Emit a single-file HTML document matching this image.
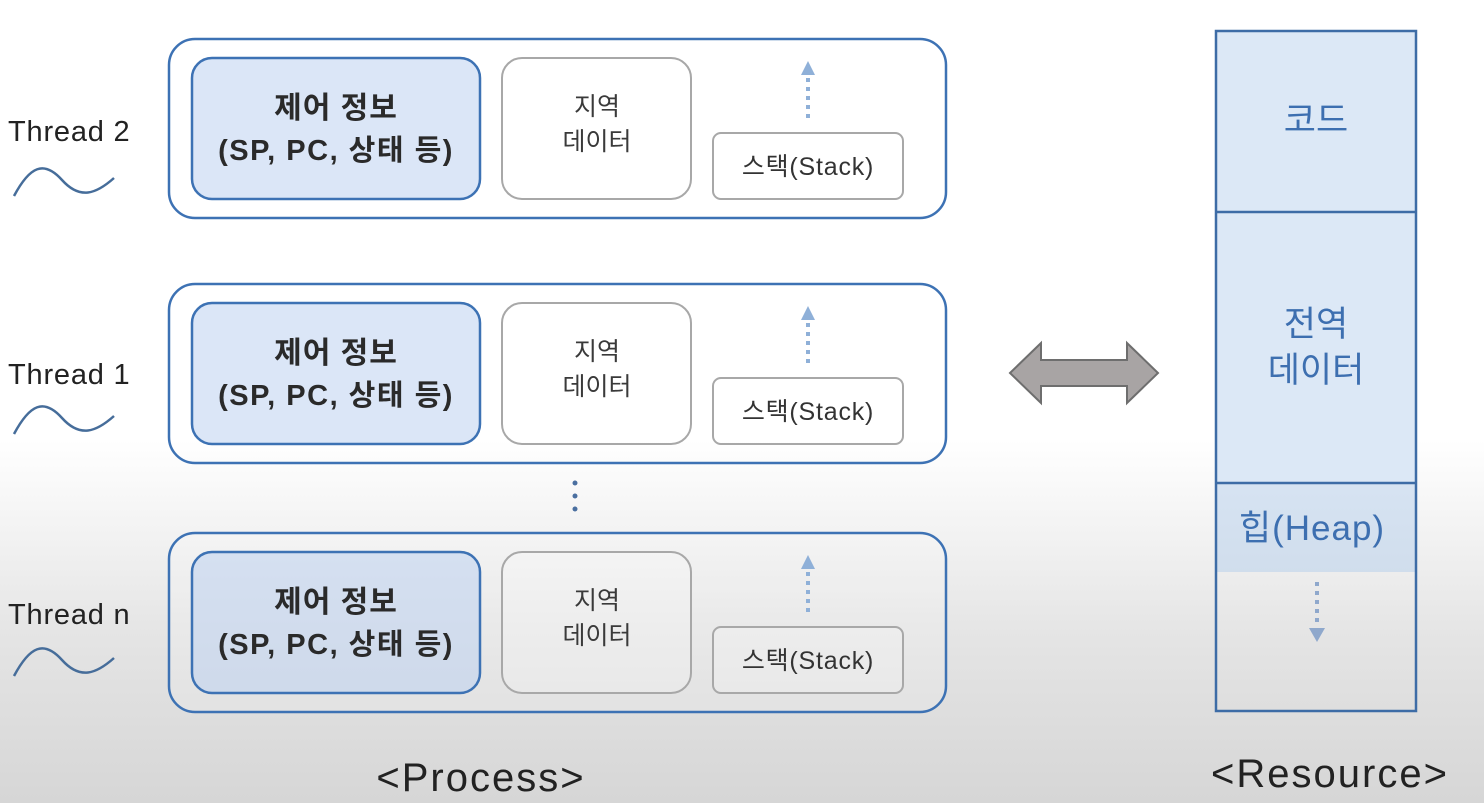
<!DOCTYPE html>
<html><head><meta charset="utf-8"><style>
html,body{margin:0;padding:0;}
body{width:1484px;height:803px;overflow:hidden;background:linear-gradient(to bottom,#ffffff 0px,#ffffff 440px,#e4e4e4 640px,#d6d6d6 803px);}
svg{display:block;}
text{font-family:"Liberation Sans","Noto Sans CJK KR",sans-serif;}
</style></head><body>
<svg width="1484" height="803" viewBox="0 0 1484 803" xmlns="http://www.w3.org/2000/svg">
<defs>
<g id="row">
  <rect x="169" y="0" width="777" height="179" rx="26" fill="rgba(255,255,255,0.15)" stroke="#3d72b4" stroke-width="2.5"/>
  <rect x="192" y="19" width="288" height="141" rx="20" fill="rgba(190,210,240,0.55)" stroke="#3d72b4" stroke-width="2.5"/>
  <text x="336" y="79" text-anchor="middle" font-size="30" font-weight="bold" fill="#2a2a2a" letter-spacing="1">제어 정보</text>
  <text x="336" y="121" text-anchor="middle" font-size="29" font-weight="bold" fill="#2a2a2a" letter-spacing="1.5">(SP, PC, 상태 등)</text>
  <rect x="502" y="19" width="189" height="141" rx="20" fill="rgba(255,255,255,0.2)" stroke="#a8a8a8" stroke-width="2"/>
  <text x="597" y="76" text-anchor="middle" font-size="25" fill="#3a3a3a">지역</text>
  <text x="597" y="111" text-anchor="middle" font-size="25" fill="#3a3a3a">데이터</text>
  <rect x="713" y="94" width="190" height="66" rx="8" fill="rgba(255,255,255,0.2)" stroke="#a8a8a8" stroke-width="2"/>
  <text x="808" y="136" text-anchor="middle" font-size="25" fill="#333" letter-spacing="0.8">스택(Stack)</text>
  <line x1="808" y1="79" x2="808" y2="34" stroke="#8fb0d8" stroke-width="4" stroke-dasharray="4,5"/>
  <polygon points="801,36 815,36 808,22" fill="#8fb0d8"/>
</g>
</defs>
<use href="#row" x="0" y="39"/>
<use href="#row" x="0" y="284"/>
<use href="#row" x="0" y="533"/>

<text x="8" y="141" font-size="29" fill="#222" letter-spacing="0.8">Thread 2</text>
<text x="8" y="384" font-size="29" fill="#222" letter-spacing="0.8">Thread 1</text>
<text x="8" y="624" font-size="29" fill="#222" letter-spacing="0.8">Thread n</text>
<path d="M14,196 C30,166 44,160 62,180 C80,200 96,194 114,178" fill="none" stroke="#466d9a" stroke-width="2.5"/>
<path d="M14,434 C30,404 44,398 62,418 C80,438 96,432 114,416" fill="none" stroke="#466d9a" stroke-width="2.5"/>
<path d="M14,676 C30,646 44,640 62,660 C80,680 96,674 114,658" fill="none" stroke="#466d9a" stroke-width="2.5"/>

<circle cx="575" cy="483" r="2.5" fill="#4a6fa0"/>
<circle cx="575" cy="496" r="2.5" fill="#4a6fa0"/>
<circle cx="575" cy="509" r="2.5" fill="#4a6fa0"/>

<polygon points="1010,373 1041,343 1041,360 1127,360 1127,343 1158,373 1127,403 1127,386 1041,386 1041,403" fill="#a8a4a4" stroke="#6e6e6e" stroke-width="2"/>

<rect x="1216" y="31" width="200" height="452" fill="#dce8f6"/>
<rect x="1216" y="483" width="200" height="89" fill="rgba(180,205,235,0.5)"/>
<rect x="1216" y="31" width="200" height="680" fill="none" stroke="#3d6ca6" stroke-width="2.5"/>
<line x1="1216" y1="212" x2="1416" y2="212" stroke="#3d6ca6" stroke-width="2.5"/>
<line x1="1216" y1="483" x2="1416" y2="483" stroke="#3d6ca6" stroke-width="2.5"/>
<text x="1316" y="132" text-anchor="middle" font-size="35" fill="#3d6fb0">코드</text>
<text x="1316" y="336" text-anchor="middle" font-size="35" fill="#3d6fb0">전역</text>
<text x="1316" y="382" text-anchor="middle" font-size="35" fill="#3d6fb0">데이터</text>
<text x="1312" y="540" text-anchor="middle" font-size="35" fill="#3d6fb0" letter-spacing="1">힙(Heap)</text>
<line x1="1317" y1="582" x2="1317" y2="625" stroke="#8fa8cc" stroke-width="4" stroke-dasharray="4,5"/>
<polygon points="1309,628 1325,628 1317,642" fill="#8fa8cc"/>

<text x="481" y="791" text-anchor="middle" font-size="40" fill="#222" letter-spacing="2">&lt;Process&gt;</text>
<text x="1330" y="787" text-anchor="middle" font-size="40" fill="#222" letter-spacing="2">&lt;Resource&gt;</text>
</svg>
</body></html>
